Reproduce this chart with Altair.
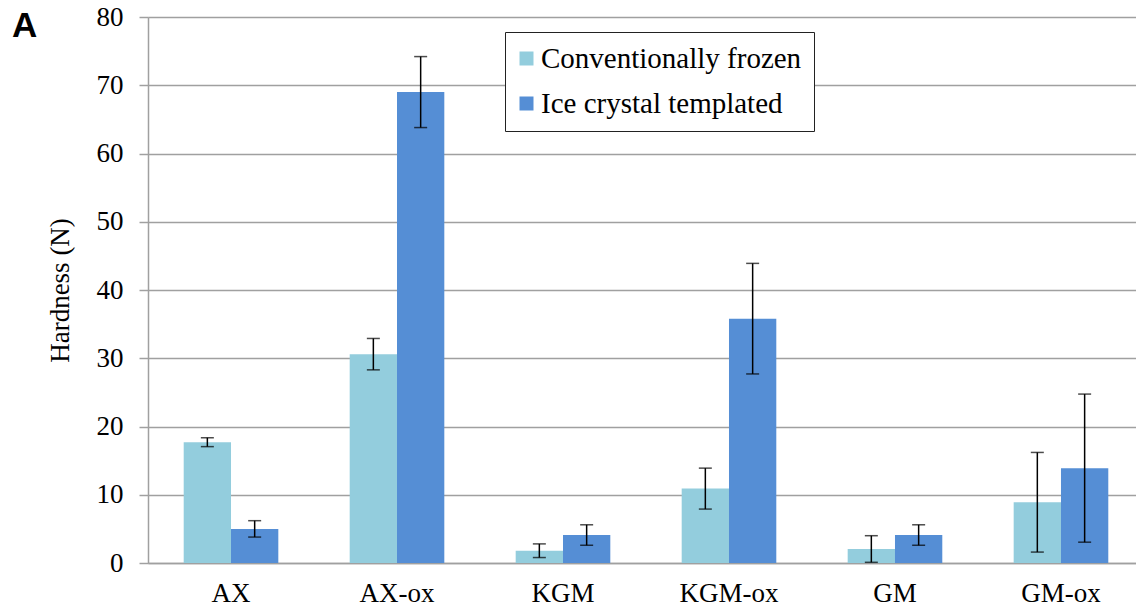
import altair as alt
import pandas as pd

categories = ["AX", "AX-ox", "KGM", "KGM-ox", "GM", "GM-ox"]
series = ["Conventionally frozen", "Ice crystal templated"]
conv_values = [17.7, 30.6, 1.8, 10.9, 2.05, 8.9]
conv_err = [0.65, 2.3, 1.0, 3.0, 1.95, 7.3]
ice_values = [5.0, 69.0, 4.1, 35.8, 4.1, 13.9]
ice_err = [1.2, 5.2, 1.5, 8.1, 1.5, 10.85]
y_ticks = [0, 10, 20, 30, 40, 50, 60, 70, 80]
colors = ["#93CDDD", "#558ED5"]
panel_label = ["A"]

rows = []
for i, c in enumerate(categories):
    rows.append({"cat": c, "series": series[0], "value": conv_values[i], "err": conv_err[i]})
    rows.append({"cat": c, "series": series[1], "value": ice_values[i], "err": ice_err[i]})
df = pd.DataFrame(rows)
df["lo"] = df["value"] - df["err"]
df["hi"] = df["value"] + df["err"]

SERIF = "Liberation Serif"

x_enc = alt.X(
    "cat:N",
    sort=categories,
    scale=alt.Scale(paddingInner=0.43, paddingOuter=0.191, align=0.563),
    axis=alt.Axis(
        title=None,
        labelAngle=0,
        labelFont=SERIF,
        labelFontSize=27,
        labelColor="black",
        labelPadding=17,
        ticks=False,
        domainColor="#A0A0A0",
        domainWidth=1.5,
        grid=False,
    ),
)
xo_enc = alt.XOffset("series:N", sort=series, scale=alt.Scale(paddingInner=0, paddingOuter=0))

bars = alt.Chart(df).mark_bar().encode(
    x=x_enc,
    xOffset=xo_enc,
    y=alt.Y(
        "value:Q",
        scale=alt.Scale(domain=[0, 80], nice=False),
        axis=alt.Axis(
            title="Hardness (N)",
            titleFont=SERIF,
            titleFontSize=27,
            titleFontWeight="normal",
            titleColor="black",
            titlePadding=22,
            values=y_ticks,
            labelFont=SERIF,
            labelFontSize=27,
            labelColor="black",
            labelPadding=16,
            tickSize=9,
            tickColor="#A0A0A0",
            tickWidth=1.5,
            domainColor="#A0A0A0",
            domainWidth=1.5,
            gridColor="#A0A0A0",
            gridWidth=1.5,
        ),
    ),
    color=alt.Color(
        "series:N",
        sort=series,
        scale=alt.Scale(domain=series, range=colors),
        legend=alt.Legend(
            title=None,
            orient="none",
            legendX=357,
            legendY=15,
            labelFont=SERIF,
            labelFontSize=29,
            labelColor="black",
            labelOffset=0,
            labelLimit=500,
            symbolType="square",
            symbolSize=196,
            symbolStrokeWidth=0,
            symbolOffset=-5,
            rowPadding=15,
            padding=12,
            strokeColor="#222222",
            fillColor="white",
        ),
    ),
)

rules = alt.Chart(df).mark_rule(color="black", strokeWidth=1.5).encode(
    x=alt.X("cat:N", sort=categories),
    xOffset=alt.XOffset("series:N", sort=series),
    y="lo:Q",
    y2="hi:Q",
)
caps_hi = alt.Chart(df).mark_tick(color="black", thickness=1.5, size=13, orient="horizontal").encode(
    x=alt.X("cat:N", sort=categories),
    xOffset=alt.XOffset("series:N", sort=series),
    y="hi:Q",
)
caps_lo = alt.Chart(df).mark_tick(color="black", thickness=1.5, size=13, orient="horizontal").encode(
    x=alt.X("cat:N", sort=categories),
    xOffset=alt.XOffset("series:N", sort=series),
    y="lo:Q",
)

label_df = pd.DataFrame({"label": panel_label})
panel = alt.Chart(label_df).mark_text(
    font="Liberation Sans",
    fontSize=35,
    fontWeight="bold",
    color="black",
    align="left",
    baseline="alphabetic",
).encode(text="label:N", x=alt.value(-136), y=alt.value(20))

chart = (
    alt.layer(bars, rules, caps_hi, caps_lo, panel)
    .properties(
        width=988,
        height=546,
        autosize=alt.AutoSizeParams(type="none"),
        padding={"left": 140, "top": 9, "right": 0, "bottom": 45},
    )
    .configure_view(stroke=None)
    .configure(background="white")
)

chart.save("out.html", embed_options={"renderer": "svg", "actions": False})
